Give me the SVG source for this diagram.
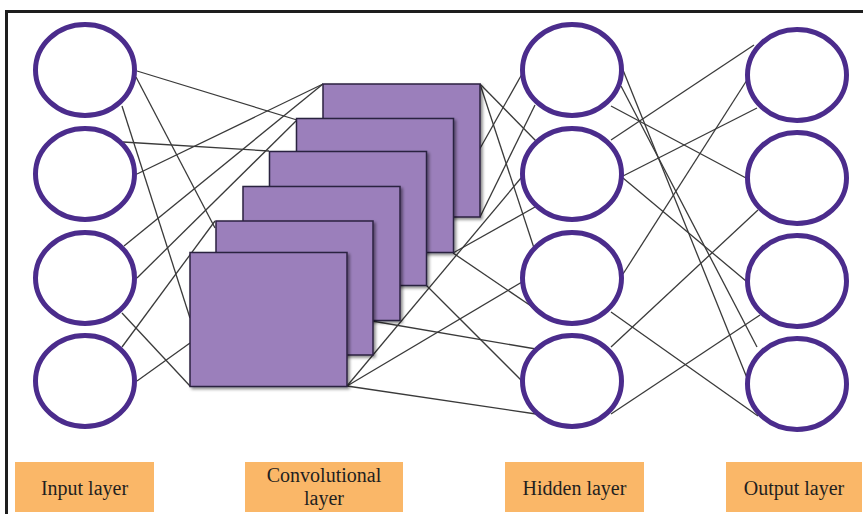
<svg xmlns="http://www.w3.org/2000/svg" width="863" height="514" viewBox="0 0 863 514">
<defs>
<filter id="sh" x="-10%" y="-10%" width="125%" height="125%">
<feDropShadow dx="2" dy="2" stdDeviation="1.5" flood-color="#000" flood-opacity="0.45"/>
</filter>
<style>
.frame{fill:none;stroke:#1e1e1e;stroke-width:3}
.ln{stroke:#3a3a3a;stroke-width:1.3;fill:none}
.node{fill:#fff;stroke:#4b2c8c;stroke-width:5}
.fmap{fill:#9b7fbb;stroke:#2b2240;stroke-width:1.5;filter:url(#sh)}
.lbl{fill:#fab768}
.txt{font-family:"Liberation Serif","Times New Roman",serif;font-size:20px;fill:#1f1f1f;text-anchor:middle}
</style>
</defs>
<rect width="863" height="514" fill="#fff"/>
<path class="frame" d="M6.5,514 V11.5 H863"/>
<g id="connectors">
<line class="ln" x1="137" y1="71" x2="297" y2="120"/>
<line class="ln" x1="136" y1="77" x2="215" y2="228"/>
<line class="ln" x1="122" y1="106" x2="190" y2="318"/>
<line class="ln" x1="123" y1="142" x2="269" y2="151"/>
<line class="ln" x1="137" y1="174" x2="323" y2="84"/>
<line class="ln" x1="124" y1="246" x2="323" y2="84"/>
<line class="ln" x1="137" y1="278" x2="297" y2="120"/>
<line class="ln" x1="122" y1="313" x2="190" y2="386"/>
<line class="ln" x1="122" y1="347" x2="215" y2="221"/>
<line class="ln" x1="137" y1="381" x2="190" y2="343"/>
<line class="ln" x1="480" y1="84" x2="536" y2="141"/>
<line class="ln" x1="480" y1="84" x2="534" y2="248"/>
<line class="ln" x1="478" y1="152" x2="522" y2="74"/>
<line class="ln" x1="480" y1="217" x2="535" y2="105"/>
<line class="ln" x1="453" y1="253" x2="534" y2="308"/>
<line class="ln" x1="453" y1="253" x2="535" y2="207"/>
<line class="ln" x1="426" y1="285" x2="522" y2="381"/>
<line class="ln" x1="372" y1="321" x2="536" y2="349"/>
<line class="ln" x1="347" y1="386" x2="536" y2="414"/>
<line class="ln" x1="347" y1="386" x2="522" y2="282"/>
<line class="ln" x1="347" y1="386" x2="521" y2="178"/>
<line class="ln" x1="623" y1="70" x2="747" y2="378"/>
<line class="ln" x1="611" y1="106" x2="746" y2="178"/>
<line class="ln" x1="611" y1="140" x2="754" y2="45"/>
<line class="ln" x1="623" y1="176" x2="757" y2="108"/>
<line class="ln" x1="623" y1="178" x2="746" y2="281"/>
<line class="ln" x1="621" y1="86" x2="757" y2="347"/>
<line class="ln" x1="623" y1="274" x2="747" y2="80"/>
<line class="ln" x1="611" y1="312" x2="758" y2="416"/>
<line class="ln" x1="611" y1="347" x2="758" y2="210"/>
<line class="ln" x1="611" y1="414" x2="760" y2="315"/>
</g>
<g id="conv-maps">
<rect id="map1" class="fmap" x="323" y="84" width="157" height="133"/>
<rect id="map2" class="fmap" x="296.5" y="118.5" width="157" height="134"/>
<rect id="map3" class="fmap" x="269.5" y="151.5" width="157" height="134"/>
<rect id="map4" class="fmap" x="243" y="186.5" width="157" height="134"/>
<rect id="map5" class="fmap" x="216" y="221" width="157" height="134"/>
<rect id="map6" class="fmap" x="190" y="252.5" width="157" height="134"/>
</g>
<g id="input-nodes">
<ellipse id="in1" class="node" cx="85" cy="70" rx="49.5" ry="45.5"/>
<ellipse id="in2" class="node" cx="85" cy="174" rx="49.5" ry="45.5"/>
<ellipse id="in3" class="node" cx="85" cy="278" rx="49.5" ry="45.5"/>
<ellipse id="in4" class="node" cx="85" cy="381" rx="49.5" ry="45.5"/>
</g>
<g id="hidden-nodes">
<ellipse id="h1" class="node" cx="572" cy="70" rx="49.5" ry="45.5"/>
<ellipse id="h2" class="node" cx="572" cy="174" rx="49.5" ry="45.5"/>
<ellipse id="h3" class="node" cx="572" cy="278" rx="49.5" ry="45.5"/>
<ellipse id="h4" class="node" cx="572" cy="381" rx="49.5" ry="45.5"/>
</g>
<g id="output-nodes">
<ellipse id="o1" class="node" cx="797" cy="75" rx="49.5" ry="45.5"/>
<ellipse id="o2" class="node" cx="797" cy="178" rx="49.5" ry="45.5"/>
<ellipse id="o3" class="node" cx="797" cy="281" rx="49.5" ry="45.5"/>
<ellipse id="o4" class="node" cx="797" cy="384" rx="49.5" ry="45.5"/>
</g>
<g id="label-input">
<rect class="lbl" x="15" y="462" width="139" height="50"/>
<text class="txt" x="84.5" y="495">Input layer</text>
</g>
<g id="label-conv">
<rect class="lbl" x="245" y="462" width="158" height="50"/>
<text class="txt" x="324" y="482">Convolutional</text>
<text class="txt" x="324" y="505">layer</text>
</g>
<g id="label-hidden">
<rect class="lbl" x="505" y="462" width="139" height="50"/>
<text class="txt" x="574.5" y="495">Hidden layer</text>
</g>
<g id="label-output">
<rect class="lbl" x="726" y="462" width="136" height="50"/>
<text class="txt" x="794" y="495">Output layer</text>
</g>
</svg>
